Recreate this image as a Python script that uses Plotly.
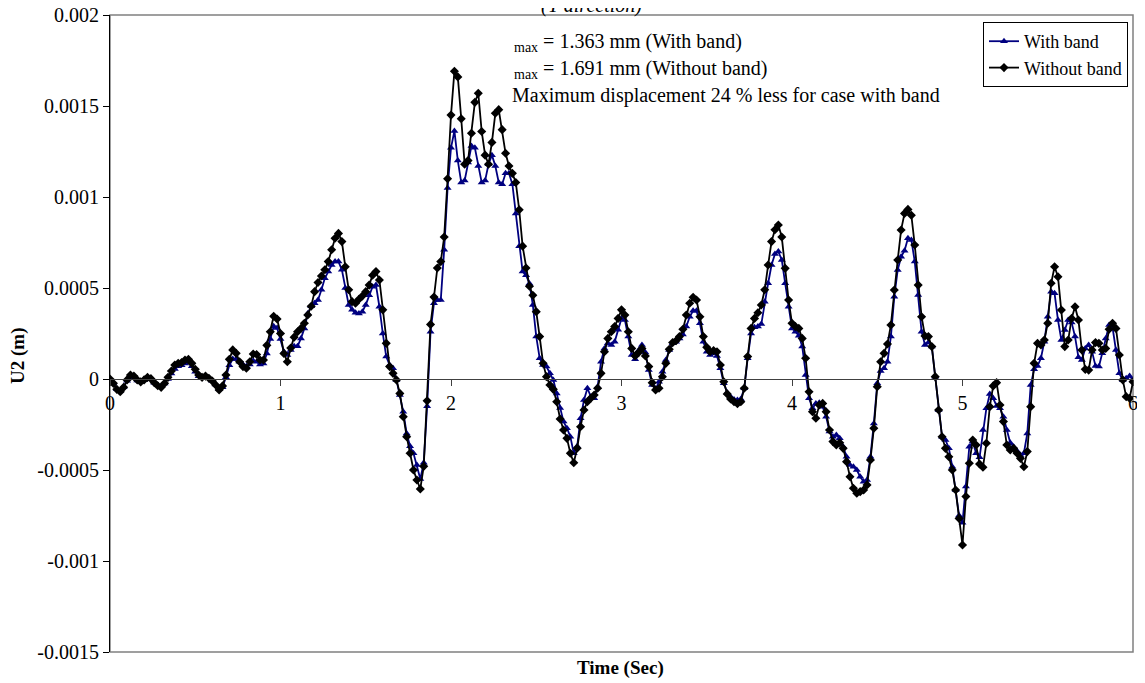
import numpy as np
import plotly.graph_objects as go

# time grid (s), sampled every 0.02 s from 0 to 6 s
time_s = np.round(np.arange(301) * 0.02, 2)

# U2 values, in units of 1e-4 m
with_band_e4 = [
    0, -0.25, -0.55, -0.65, -0.45, -0.10, 0.12, 0.10, -0.08, -0.15, -0.05, 0.05, 0.00, -0.20, -0.35, -0.40, -0.25,
    0.00, 0.30, 0.55, 0.70, 0.75, 0.85, 0.90, 0.70, 0.40, 0.15, 0.10, 0.15, 0.05, -0.10, -0.30, -0.55, -0.45,
    0.10, 0.75, 1.10, 1.10, 0.95, 0.80, 0.70, 0.80, 1.00, 0.95, 0.80, 0.85, 1.40, 2.20, 2.90, 2.80, 2.20,
    1.50, 1.32, 1.60, 1.80, 1.80, 2.23, 2.78, 3.60, 4.00, 4.16, 4.34, 4.90, 5.53, 5.90, 6.26, 6.45, 6.45, 6.00, 5.00, 4.07,
    3.80, 3.64, 3.60, 3.70, 4.07, 4.60, 5.07, 5.16, 3.97, 2.50, 1.23, 0.77, 0.59, -0.05, -0.88, -1.80, -3.00, -3.70, -4.08, -4.73,
    -5.50, -4.60, -1.50, 2.60, 4.16, 4.34, 4.34, 7.10, 10.50, 12.70,
    13.63, 12.00, 10.80, 10.90, 11.90, 12.80, 12.70, 11.70, 10.80, 10.90, 11.80, 12.30, 11.70, 10.80, 10.70, 11.30, 11.30, 10.70, 9.10, 7.30,
    5.90, 5.70, 5.25, 4.07, 2.33, 1.14, 0.77, 0.68, 0.31, -0.05, -0.79, -1.60, -2.34, -2.70, -3.17, -4.08, -3.70, -2.16, -1.15, -0.51,
    -0.97, -1.06, -0.42, 0.95, 1.68, 1.96, 1.87, 2.05, 2.70, 3.33,
    3.24, 2.33, 1.32, 1.08, 1.56, 1.87, 1.45, 0.49, -0.33, -0.57, -0.15, 0.40, 1.04, 1.60, 1.96, 2.05, 2.23, 2.45, 2.88, 3.42,
    3.75, 3.75, 3.06, 2.05, 1.50, 1.32, 1.41, 1.26, 0.59, -0.24, -0.75, -0.97, -1.12, -1.15, -1.10, -0.51, 1.14, 2.50, 2.84, 2.88,
    3.02, 4.25, 5.26, 6.26, 6.87, 7.00, 6.54, 5.26, 3.97, 2.78,
    2.60, 2.38, 1.78, 0.22, -1.06, -1.61, -1.34, -1.30, -1.52, -2.07, -2.89, -3.17, -3.08, -3.26, -3.72, -4.27, -4.73, -4.82, -5.00, -5.37,
    -5.64, -5.55, -4.27, -2.44, -0.24, 0.44, 0.59, 0.95, 2.33, 4.52, 5.99, 6.72, 7.05, 7.73, 7.64, 6.45, 4.62, 2.60, 1.87, 2.01,
    1.78, 0.13, -1.70, -3.17, -3.35, -3.80, -4.82, -6.10, -7.50, -7.90,
    -5.90, -3.72, -3.44, -4.08, -4.30, -2.80, -1.61, -0.82, -1.06, -1.48, -1.61, -2.07, -2.80, -3.50, -3.72, -3.96, -4.18, -4.08, -2.99, -0.33,
    0.53, 0.71, 1.14, 2.05, 3.42, 4.80, 4.71, 3.24, 2.14, 2.69, 3.24, 3.10, 2.33, 1.19, 1.04, 1.68, 1.87, 1.50, 0.71, 0.68,
    1.41, 2.23, 2.97, 2.84, 1.59, 0.31, -0.05, 0.04, 0.16, -0.05,
]

without_band_e4 = [
    0, -0.24, -0.57, -0.70, -0.46, -0.05, 0.22, 0.16, -0.05, -0.16, -0.05, 0.09, 0.02, -0.20, -0.37, -0.46, -0.24,
    0.09, 0.44, 0.77, 0.86, 0.90, 1.04, 1.08, 0.86, 0.53, 0.22, 0.09, 0.16, 0.04, -0.11, -0.33, -0.60, -0.38,
    0.22, 1.08, 1.60, 1.41, 0.95, 0.68, 0.59, 0.95, 1.37, 1.35, 1.04, 1.04, 1.85, 2.60, 3.45, 3.30, 2.50,
    1.40, 0.95, 1.70, 2.30, 2.60, 2.78, 3.06, 3.52, 4.00, 4.80, 5.30, 5.66, 6.00, 6.45, 7.10, 7.73, 8.00, 7.55, 6.17, 4.90,
    4.25, 4.16, 4.38, 4.56, 4.80, 5.16, 5.70, 5.90, 5.44, 3.80, 1.96, 0.68, 0.31, -0.05, -0.79, -2.07, -3.17, -4.08, -5.00, -5.55,
    -6.04, -4.80, -1.20, 3.00, 4.50, 6.10, 6.45, 7.80, 11.00, 14.50,
    16.91, 16.60, 14.30, 11.80, 12.00, 13.50, 15.20, 15.70, 13.60, 12.30, 11.80, 13.00, 14.60, 14.80, 13.70, 12.40, 11.70, 11.30, 10.80, 9.30,
    7.30, 6.10, 5.10, 4.60, 3.70, 2.33, 0.86, 0.13, -0.33, -0.57, -1.25, -2.20, -2.80, -3.26, -4.08, -4.60, -3.80, -2.62, -1.70, -1.25,
    -1.06, -0.88, -0.51, 0.31, 1.50, 2.23, 2.60, 2.88, 3.33, 3.80,
    3.52, 2.60, 1.68, 1.26, 1.45, 1.68, 1.26, 0.68, -0.20, -0.60, -0.51, 0.13, 0.86, 1.63, 2.00, 2.10, 2.33, 2.73, 3.52, 4.16,
    4.49, 4.34, 3.42, 2.33, 1.74, 1.50, 1.56, 1.50, 0.77, -0.15, -0.82, -1.10, -1.25, -1.36, -1.25, -0.51, 1.23, 2.78, 3.33, 3.64,
    4.07, 4.90, 6.26, 7.55, 8.20, 8.46, 7.80, 6.08, 4.34, 3.06,
    2.88, 2.78, 2.23, 1.14, -0.70, -1.80, -2.16, -1.43, -1.34, -1.80, -2.80, -3.44, -3.63, -3.50, -3.81, -4.54, -5.37, -6.00, -6.28, -6.19,
    -6.10, -5.82, -4.45, -2.71, -0.42, 0.95, 1.41, 1.92, 2.97, 4.89, 6.54, 8.19, 9.10, 9.32, 9.00, 7.36, 5.16, 3.42, 2.36, 2.33,
    1.78, 0.13, -1.70, -3.17, -3.81, -4.27, -5.00, -6.10, -7.66, -9.12,
    -6.46, -4.63, -3.35, -3.63, -4.67, -4.85, -3.53, -1.52, -0.38, -0.20, -1.43, -2.34, -3.63, -3.90, -3.81, -4.08, -4.36, -4.82, -3.99, -1.52,
    0.86, 1.96, 1.87, 2.14, 3.06, 5.26, 6.17, 5.62, 3.79, 1.78, 2.14, 3.33, 3.97, 3.24, 1.59, 0.53, 0.49, 1.59, 2.00, 1.96,
    1.59, 1.68, 2.73, 3.06, 2.78, 1.32, -0.05, -0.97, -1.06, -0.15,
]

with_band = np.array(with_band_e4) * 1e-4
without_band = np.array(without_band_e4) * 1e-4

x_ticks = [0, 1, 2, 3, 4, 5, 6]
y_ticks = [0.002, 0.0015, 0.001, 0.0005, 0, -0.0005, -0.001, -0.0015]
y_tick_text = ["0.002", "0.0015", "0.001", "0.0005", "0", "-0.0005", "-0.001", "-0.0015"]

FONT = "Liberation Serif, Times New Roman, serif"
NAVY = "#000080"

# the page body has an 8 px default margin: the figure starts at (8, 8)
PL, PT, PR, PB = 110, 15, 1133, 652   # plot area in window pixels
PW, PH = PR - PL, PB - PT


def px(xw):
    return (xw - PL) / PW


def py(yw):
    return (PB - yw) / PH


fig = go.Figure()
fig.add_trace(go.Scatter(
    x=time_s, y=with_band, mode="lines+markers", name="With band",
    line=dict(color=NAVY, width=1.8),
    marker=dict(symbol="triangle-up", size=7, color=NAVY),
))
fig.add_trace(go.Scatter(
    x=time_s, y=without_band, mode="lines+markers", name="Without band",
    line=dict(color="black", width=1.8),
    marker=dict(symbol="diamond", size=7, color="black"),
))

fig.update_layout(
    width=1137, height=675,
    margin=dict(l=PL - 8, r=1145 - PR, t=PT - 8, b=683 - PB),
    paper_bgcolor="white", plot_bgcolor="white",
    font=dict(family=FONT, size=20, color="black"),
    showlegend=True,
    legend=dict(
        x=px(1128), y=py(22), xanchor="right", yanchor="top",
        bordercolor="black", borderwidth=1, bgcolor="white",
        font=dict(family=FONT, size=18, color="black"),
        tracegroupgap=0, itemwidth=30,
    ),
    xaxis=dict(
        range=[0, 6], tickvals=x_ticks, showgrid=False, zeroline=False,
        showline=True, linecolor="#404040", linewidth=1,
        ticks="outside", ticklen=6, tickcolor="#404040",
        anchor="free", position=3 / 7, automargin=False, ticklabeloverflow="allow",
        tickfont=dict(family=FONT, size=20, color="black"),
    ),
    yaxis=dict(
        range=[-0.0015, 0.002], tickvals=y_ticks, ticktext=y_tick_text,
        showgrid=False, zeroline=False, automargin=False, ticklabeloverflow="allow",
        showline=True, linecolor="black", linewidth=1,
        ticks="outside", ticklen=6, tickcolor="black",
        tickfont=dict(family=FONT, size=20, color="black"),
    ),
    shapes=[dict(type="rect", xref="paper", yref="paper", x0=0, x1=1, y0=0, y1=1,
                 line=dict(color="#808080", width=1.5), layer="below")],
    annotations=[
        dict(text="<b>U2 (m)</b>", xref="paper", yref="paper", x=px(18), y=py(356),
             xanchor="center", yanchor="middle",
             textangle=-90, showarrow=False, font=dict(family=FONT, size=19)),
        dict(text="<b>Time (Sec)</b>", xref="paper", yref="paper", x=px(620), y=py(668),
             xanchor="center", yanchor="middle", showarrow=False, font=dict(family=FONT, size=19)),
        dict(text="<sub>max</sub> = 1.363 mm (With band)", xref="paper", yref="paper",
             x=px(512), y=py(43), xanchor="left", yanchor="middle",
             showarrow=False, font=dict(family=FONT, size=20)),
        dict(text="<sub>max</sub> = 1.691 mm (Without band)", xref="paper", yref="paper",
             x=px(512), y=py(69), xanchor="left", yanchor="middle",
             showarrow=False, font=dict(family=FONT, size=20)),
        dict(text="Maximum displacement 24 % less for case with band", xref="paper", yref="paper",
             x=px(510), y=py(96), xanchor="left", yanchor="middle",
             showarrow=False, font=dict(family=FONT, size=20)),
        dict(text="<i>(Y direction)</i>", xref="paper", yref="paper",
             x=px(591), y=py(19), xanchor="center", yanchor="bottom",
             showarrow=False, font=dict(family=FONT, size=20)),
    ],
)

fig.write_html("out.html")
